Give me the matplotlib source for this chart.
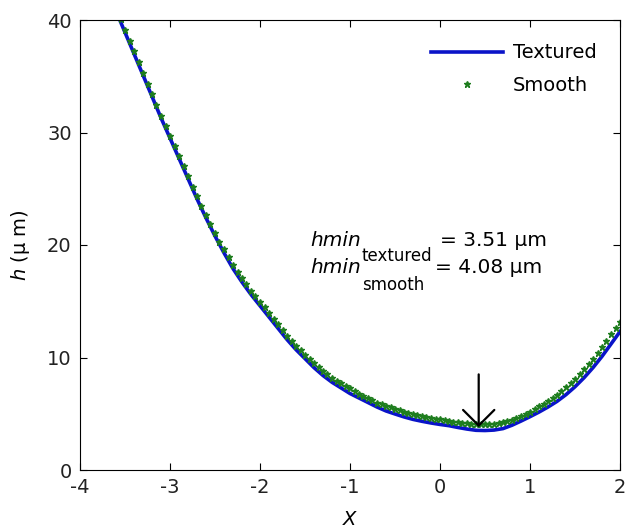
import numpy as np
import matplotlib
matplotlib.use('Agg')
import matplotlib.pyplot as plt

plt.rcParams['font.family'] = ['DejaVu Sans']
plt.rcParams['axes.unicode_minus'] = False

# textured film thickness, x from -3.6 to 2.0 in steps of 0.1
textured_h = [40.8, 38.9, 37.0, 35.1, 33.2, 31.3, 29.5, 27.7, 25.9, 24.1,
              22.4, 20.8, 19.3, 17.9, 16.7, 15.6, 14.6, 13.6, 12.6, 11.6,
              10.7, 9.9, 9.1, 8.4, 7.8, 7.3, 6.8, 6.4, 6.0, 5.6,
              5.25, 4.98, 4.72, 4.5, 4.33, 4.18, 4.05, 3.94, 3.78, 3.64,
              3.53, 3.51, 3.55, 3.68, 3.98, 4.35, 4.74, 5.15, 5.6, 6.1,
              6.7, 7.4, 8.2, 9.1, 10.1, 11.2, 12.3]

# smooth film thickness, x from -3.6 to 2.0 in steps of 0.05
smooth_h = [41.0, 40.05, 39.1, 38.15, 37.2, 36.25, 35.3, 34.35, 33.4, 32.45,
            31.5, 30.6, 29.7, 28.8, 27.9, 27.0, 26.1, 25.2, 24.35, 23.5,
            22.65, 21.85, 21.05, 20.3, 19.6, 18.9, 18.2, 17.62, 17.05, 16.5,
            15.95, 15.45, 14.95, 14.45, 13.95, 13.45, 12.95, 12.45, 11.95, 11.5,
            11.05, 10.65, 10.25, 9.87, 9.5, 9.15, 8.8, 8.5, 8.2, 7.95,
            7.7, 7.47, 7.25, 7.02, 6.8, 6.6, 6.4, 6.2, 6.0, 5.85,
            5.7, 5.56, 5.42, 5.3, 5.18, 5.07, 4.97, 4.88, 4.79, 4.71,
            4.63, 4.56, 4.49, 4.43, 4.37, 4.31, 4.25, 4.2, 4.16, 4.13,
            4.10, 4.08, 4.08, 4.09, 4.12, 4.18, 4.25, 4.36, 4.48, 4.63,
            4.8, 5.0, 5.2, 5.42, 5.65, 5.9, 6.15, 6.42, 6.7, 7.02,
            7.35, 7.72, 8.1, 8.52, 8.95, 9.42, 9.9, 10.42, 10.95, 11.5,
            12.05, 12.62, 13.2]

x_textured = np.linspace(-3.6, 2.0, len(textured_h))
x_smooth = np.linspace(-3.6, 2.0, len(smooth_h))

hmin_textured = 3.51
hmin_smooth = 4.08
x_min = 0.43

fig = plt.figure(figsize=(6.28, 5.32), dpi=100)
ax = fig.add_axes([80 / 628, 62 / 532, 540 / 628, 450 / 532])

ax.plot(x_textured, textured_h, color='#0a14c8', lw=2.6, label='Textured')
ax.plot(x_smooth, smooth_h, ls='none', marker='*', ms=4.5, color='#1e7d1e',
        label='Smooth')

ax.annotate('', xy=(x_min, hmin_textured + 0.3), xytext=(x_min, 8.5),
            arrowprops=dict(arrowstyle='->,head_length=0.45,head_width=0.45',
                            color='black', lw=1.6, mutation_scale=25,
                            shrinkA=0, shrinkB=0))

# hmin labels, built from pieces so the subscript can be sized like the original
ax.text(-1.44, 19.94, 'hmin', fontsize=14.5, fontstyle='italic', va='baseline')
ax.text(-0.87, 18.6, 'textured', fontsize=12, va='baseline')
ax.text(0.0, 19.94, '= %.2f μm' % hmin_textured, fontsize=14.5, va='baseline')
ax.text(-1.44, 17.48, 'hmin', fontsize=14.5, fontstyle='italic', va='baseline')
ax.text(-0.87, 16.0, 'smooth', fontsize=12, va='baseline')
ax.text(-0.06, 17.48, '= %.2f μm' % hmin_smooth, fontsize=14.5, va='baseline')

ax.set_xlim(-4, 2)
ax.set_ylim(0, 40)
ax.set_xticks(range(-4, 3))
ax.set_yticks(range(0, 41, 10))
ax.tick_params(direction='in', length=5, width=0.8, top=True, right=True,
               labelsize=14, pad=6, labelcolor='#222222')
ax.set_xlabel('X', fontsize=14, fontstyle='italic', labelpad=9)
ax.set_ylabel(r'$\mathit{h}$ (μ m)', fontsize=14, labelpad=11)
for s in ax.spines.values():
    s.set_linewidth(0.8)

ax.legend(loc='upper right', frameon=False, fontsize=14, handlelength=3.7,
          labelspacing=0.7, borderaxespad=0.8, handletextpad=0.5)

fig.savefig('out.png', dpi=100)
